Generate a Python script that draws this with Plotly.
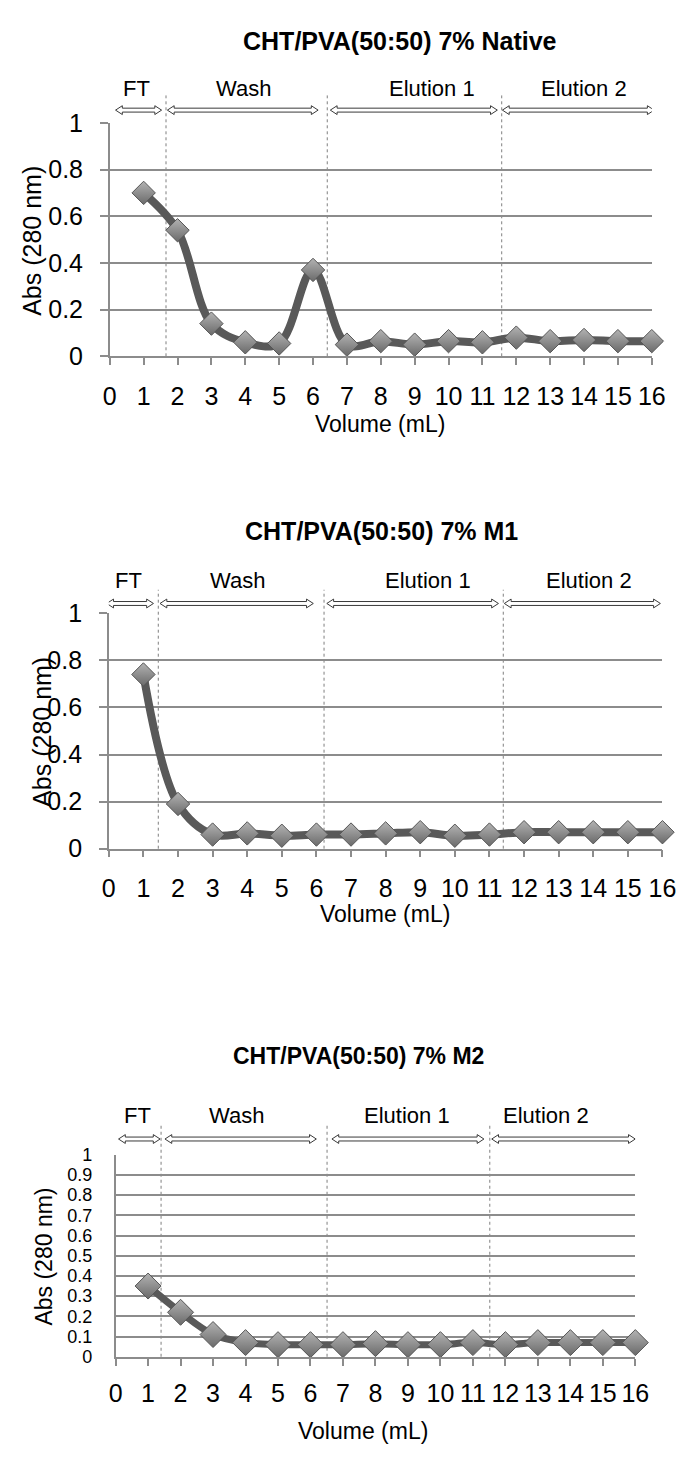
import plotly.graph_objects as go

W, H = 691, 1461
FONT = "Liberation Sans, Arial, sans-serif"

# ---- data -------------------------------------------------------------
volume_ml = list(range(1, 17))
x_ticks = list(range(0, 17))

abs_native = [0.70, 0.54, 0.14, 0.06, 0.055, 0.37, 0.05, 0.065,
              0.05, 0.065, 0.06, 0.08, 0.065, 0.07, 0.065, 0.065]
abs_m1 = [0.74, 0.19, 0.06, 0.065, 0.055, 0.06, 0.06, 0.065,
          0.07, 0.055, 0.06, 0.07, 0.07, 0.07, 0.07, 0.07]
abs_m2 = [0.35, 0.22, 0.11, 0.07, 0.06, 0.06, 0.06, 0.065,
          0.06, 0.06, 0.07, 0.06, 0.07, 0.07, 0.07, 0.07]

titles = ["CHT/PVA(50:50) 7% Native", "CHT/PVA(50:50) 7% M1", "CHT/PVA(50:50) 7% M2"]
section_names = ["FT", "Wash", "Elution 1", "Elution 2"]

# fraction boundaries (mL) and the span of each section arrow / label centre
native_dividers = [1.66, 6.42, 11.57]
native_arrows = [(0.17, 1.53), (1.70, 6.15), (6.51, 11.44), (11.59, 16.07)]
native_label_x = [0.80, 3.95, 9.50, 14.0]

m1_dividers = [1.43, 6.22, 11.40]
m1_arrows = [(-0.06, 1.29), (1.48, 5.91), (6.30, 11.26), (11.43, 15.94)]
m1_label_x = [0.56, 3.73, 9.22, 13.87]

m2_dividers = [1.40, 6.51, 11.52]
m2_arrows = [(0.09, 1.37), (1.52, 6.18), (6.66, 11.34), (11.58, 16.0)]
m2_label_x = [0.66, 3.73, 8.96, 13.25]

# ---- panel layout (pixels) ----------------------------------------------
panels = [
    dict(y=abs_native, dividers=native_dividers, arrows=native_arrows, label_x=native_label_x,
         x0=106, x1=665, top=111, bot=349, title_xy=(405, 28), title_size=25,
         label_y=76, arrow_y=98, div_top=83, xtitle_xy=(385, 418), ytitle_xy=(25, 231),
         ytitle_size=25, dtick=0.2, yticklen=8, ytick_size=25, ystand=12, xstand=10,
         lw=8, ms=18),
    dict(y=abs_m1, dividers=m1_dividers, arrows=m1_arrows, label_x=m1_label_x,
         x0=105, x1=676, top=611, bot=851, title_xy=(386, 527), title_size=25,
         label_y=578, arrow_y=601, div_top=587, xtitle_xy=(390, 918), ytitle_xy=(36, 732),
         ytitle_size=25, dtick=0.2, yticklen=8, ytick_size=25, ystand=12, xstand=10,
         lw=8, ms=18),
    dict(y=abs_m2, dividers=m2_dividers, arrows=m2_arrows, label_x=m2_label_x,
         x0=112, x1=648, top=1163, bot=1369, title_xy=(363, 1062), title_size=23,
         label_y=1123, arrow_y=1147, div_top=1133, xtitle_xy=(367, 1445), ytitle_xy=(38, 1267),
         ytitle_size=23, dtick=0.1, yticklen=0, ytick_size=18, ystand=18, xstand=6,
         lw=7, ms=20),
]

GRID = "#8c8c8c"
LINE = "#595959"


def py(p):
    return 1 - p / H


fig = go.Figure()
layout = dict(
    width=W, height=H, margin=dict(l=0, r=0, t=0, b=0),
    paper_bgcolor="white", plot_bgcolor="white", showlegend=False,
    font=dict(family=FONT, color="black"),
)
annotations, shapes = [], []

for i, p in enumerate(panels, start=1):
    xa = "x" if i == 1 else f"x{i}"
    ya = "y" if i == 1 else f"y{i}"
    layout["xaxis" if i == 1 else f"xaxis{i}"] = dict(
        domain=[p["x0"] / W, p["x1"] / W], anchor=ya, range=[0, 16],
        tickmode="array", tickvals=x_ticks, showgrid=False, zeroline=False,
        showline=True, linecolor=GRID, linewidth=1.5,
        ticks="outside", ticklen=7, tickwidth=1.5, tickcolor=GRID,
        tickfont=dict(size=25, family=FONT), ticklabelstandoff=p["xstand"], fixedrange=True,
    )
    layout["yaxis" if i == 1 else f"yaxis{i}"] = dict(
        domain=[py(p["bot"]), py(p["top"])], anchor=xa, range=[0, 1],
        tick0=0, dtick=p["dtick"], showgrid=True, gridcolor=GRID, gridwidth=1.5,
        zeroline=False, showline=True, linecolor=GRID, linewidth=1.5,
        ticks="outside" if p["yticklen"] else "", ticklen=p["yticklen"],
        tickwidth=1.5, tickcolor=GRID,
        tickfont=dict(size=p["ytick_size"], family=FONT), ticklabelstandoff=p["ystand"],
        fixedrange=True,
    )

    fig.add_trace(go.Scatter(
        x=volume_ml, y=p["y"], xaxis=xa, yaxis=ya, mode="lines+markers",
        line=dict(color=LINE, width=p["lw"], shape="spline", smoothing=1),
        marker=dict(symbol="diamond", size=p["ms"], color="#b3b3b3",
                    gradient=dict(type="vertical", color="#6a6a6a"),
                    line=dict(color="#555555", width=1)),
        cliponaxis=False, hoverinfo="skip",
    ))

    # panel title and axis titles
    tx, ty = p["title_xy"]
    annotations.append(dict(text=f"<b>{titles[i-1]}</b>", x=tx / W, y=py(ty), xref="paper", yref="paper",
                            showarrow=False, xanchor="center", yanchor="middle",
                            font=dict(size=p["title_size"], family=FONT)))
    vx, vy = p["xtitle_xy"]
    annotations.append(dict(text="Volume (mL)", x=vx / W, y=py(vy), xref="paper", yref="paper",
                            showarrow=False, xanchor="center", yanchor="middle",
                            font=dict(size=23, family=FONT)))
    ax_, ay_ = p["ytitle_xy"]
    annotations.append(dict(text="Abs (280 nm)", x=ax_ / W, y=py(ay_), xref="paper", yref="paper",
                            showarrow=False, xanchor="center", yanchor="middle", textangle=-90,
                            font=dict(size=p["ytitle_size"], family=FONT)))

    # section labels
    for name, lx in zip(section_names, p["label_x"]):
        annotations.append(dict(text=name, x=lx, y=py(p["label_y"]), xref=xa, yref="paper",
                                showarrow=False, xanchor="center", yanchor="middle",
                                font=dict(size=22, family=FONT)))

    # dotted section dividers
    for d in p["dividers"]:
        shapes.append(dict(type="line", xref=xa, yref="paper", x0=d, x1=d,
                           y0=py(p["bot"]), y1=py(p["div_top"]), layer="between",
                           line=dict(color="#7f7f7f", width=1, dash="dot")))

    # hollow double-headed arrows
    unit_px = (p["x1"] - p["x0"]) / 16.0
    head = 7.0 / unit_px
    yc = p["arrow_y"]
    y_hh_t, y_hh_b = py(yc - 4.5), py(yc + 4.5)
    y_sh_t, y_sh_b = py(yc - 2.0), py(yc + 2.0)
    for a0, a1 in p["arrows"]:
        path = (f"M{a0},{py(yc)} L{a0 + head},{y_hh_t} L{a0 + head},{y_sh_t} "
                f"L{a1 - head},{y_sh_t} L{a1 - head},{y_hh_t} L{a1},{py(yc)} "
                f"L{a1 - head},{y_hh_b} L{a1 - head},{y_sh_b} L{a0 + head},{y_sh_b} "
                f"L{a0 + head},{y_hh_b} Z")
        shapes.append(dict(type="path", xref=xa, yref="paper", path=path,
                           fillcolor="white", line=dict(color="#3a3a3a", width=1)))

layout["annotations"] = annotations
layout["shapes"] = shapes
fig.update_layout(**layout)
fig.write_html("out.html")
